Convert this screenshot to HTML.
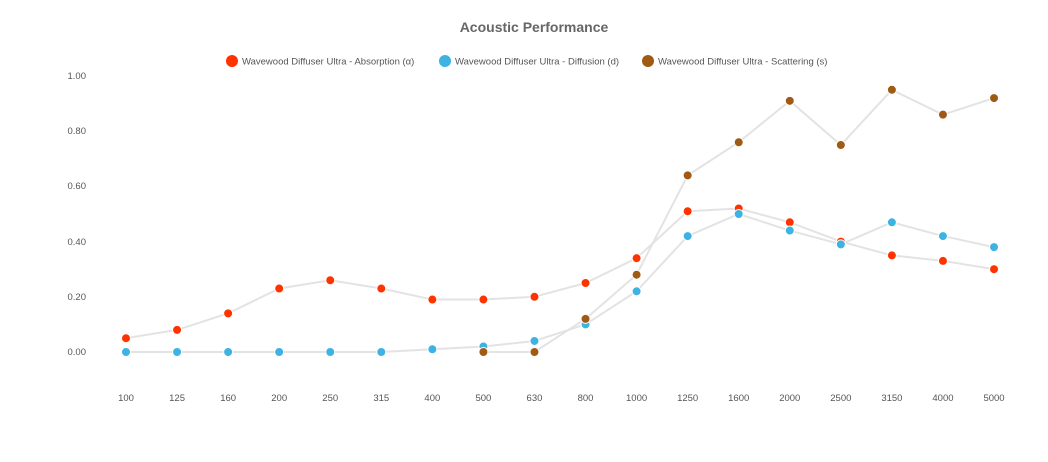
<!DOCTYPE html>
<html><head><meta charset="utf-8"><style>
body{margin:0;background:#fff;}
svg{display:block;font-family:"Liberation Sans",sans-serif;}
</style></head><body>
<svg width="1048" height="462" viewBox="0 0 1048 462" xmlns="http://www.w3.org/2000/svg">
<text x="534" y="32" text-anchor="middle" font-size="14" font-weight="bold" fill="#666">Acoustic Performance</text>
<g font-size="9.5" fill="#555">
<circle cx="232" cy="61" r="6" fill="#ff3300"/><text x="242" y="64.5">Wavewood Diffuser Ultra - Absorption (α)</text>
<circle cx="445" cy="61" r="6" fill="#3db3e3"/><text x="455" y="64.5">Wavewood Diffuser Ultra - Diffusion (d)</text>
<circle cx="648" cy="61" r="6" fill="#a05a14"/><text x="658" y="64.5">Wavewood Diffuser Ultra - Scattering (s)</text>
</g>
<g font-size="9.5" fill="#555" text-anchor="end">
<text x="86" y="79">1.00</text><text x="86" y="134">0.80</text><text x="86" y="189">0.60</text>
<text x="86" y="245">0.40</text><text x="86" y="300">0.20</text><text x="86" y="355">0.00</text>
</g>
<g id="xl" font-size="9.5" fill="#555" text-anchor="middle"></g>
<g id="plot"></g>
<script>
var labels=[100,125,160,200,250,315,400,500,630,800,1000,1250,1600,2000,2500,3150,4000,5000];
function X(i){return 126+i*51.06;}function Y(v){return 352-v*276;}
var ns="http://www.w3.org/2000/svg";
var xl=document.getElementById('xl');
labels.forEach(function(l,i){var t=document.createElementNS(ns,'text');t.setAttribute('x',X(i));t.setAttribute('y',401);t.textContent=l;xl.appendChild(t);});
var A=[.05,.08,.14,.23,.26,.23,.19,.19,.20,.25,.34,.51,.52,.47,.40,.35,.33,.30];
var D=[0,0,0,0,0,0,.01,.02,.04,.10,.22,.42,.50,.44,.39,.47,.42,.38];
var S=[null,null,null,null,null,null,null,0,0,.12,.28,.64,.76,.91,.75,.95,.86,.92];
var p=document.getElementById('plot');
function draw(d,c){var pts=[];d.forEach(function(v,i){if(v!==null)pts.push(X(i)+','+Y(v));});
var pl=document.createElementNS(ns,'polyline');pl.setAttribute('points',pts.join(' '));pl.setAttribute('fill','none');pl.setAttribute('stroke','#e3e3e3');pl.setAttribute('stroke-width','2');p.appendChild(pl);
return function(){d.forEach(function(v,i){if(v===null)return;var ci=document.createElementNS(ns,'circle');ci.setAttribute('cx',X(i));ci.setAttribute('cy',Y(v));ci.setAttribute('r',4.5);ci.setAttribute('fill',c);ci.setAttribute('stroke','#fff');ci.setAttribute('stroke-width','1');p.appendChild(ci);});};}
var f1=draw(A,'#ff3300'),f2=draw(D,'#3db3e3'),f3=draw(S,'#a05a14');f1();f2();f3();
</script>
</svg>
</body></html>
